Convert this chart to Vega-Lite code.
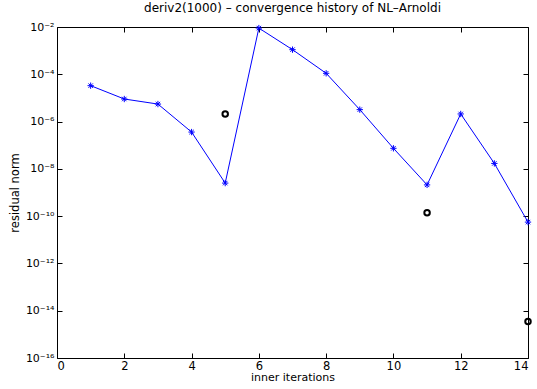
{
  "$schema": "https://vega.github.io/schema/vega-lite/v6.json",
  "width": 471,
  "height": 331,
  "autosize": {"type": "none"},
  "padding": {"left": 57, "top": 27, "right": 9, "bottom": 31},
  "background": "white",
  "config": {
    "font": "DejaVu Sans",
    "view": {"stroke": null},
    "axis": {"grid": false, "domainColor": "black", "tickColor": "black", "labelColor": "black", "titleColor": "black", "labelFont": "DejaVu Sans", "titleFont": "DejaVu Sans", "titleFontWeight": "normal", "labelFontSize": 11, "titleFontSize": 11.5, "domainWidth": 1, "tickWidth": 1}
  },
  "title": {"text": "deriv2(1000) – convergence history of NL–Arnoldi", "font": "DejaVu Sans", "fontSize": 12, "fontWeight": "normal", "color": "black", "offset": 6},
  "data": {"values": [
    {"it": 1, "res": 3.3e-5, "s": "hist"},
    {"it": 2, "res": 9e-6, "s": "hist"},
    {"it": 3, "res": 5.5e-6, "s": "hist"},
    {"it": 4, "res": 3.6e-7, "s": "hist"},
    {"it": 5, "res": 2.5e-9, "s": "hist"},
    {"it": 6, "res": 9e-3, "s": "hist"},
    {"it": 7, "res": 1.1e-3, "s": "hist"},
    {"it": 8, "res": 1.1e-4, "s": "hist"},
    {"it": 9, "res": 3.2e-6, "s": "hist"},
    {"it": 10, "res": 7.4e-8, "s": "hist"},
    {"it": 11, "res": 2.1e-9, "s": "hist"},
    {"it": 12, "res": 2.1e-6, "s": "hist"},
    {"it": 13, "res": 1.7e-8, "s": "hist"},
    {"it": 14, "res": 5.6e-11, "s": "hist"},
    {"it": 5, "res": 2.1e-6, "s": "conv"},
    {"it": 11, "res": 1.4e-10, "s": "conv"},
    {"it": 14, "res": 3.5e-15, "s": "conv"}
  ]},
  "layer": [
    {
      "transform": [{"filter": "datum.s == 'hist'"}],
      "mark": {"type": "line", "color": "#0000ff", "strokeWidth": 1, "clip": true},
      "encoding": {
        "x": {"field": "it", "type": "quantitative", "scale": {"domain": [0, 14], "nice": false, "zero": false}, "axis": {"orient": "bottom", "values": [0, 2, 4, 6, 8, 10, 12, 14], "tickSize": -5, "labelPadding": 7, "labelFontSize": 11.5, "title": "inner iterations", "titleFontSize": 11, "titlePadding": 0}},
        "y": {"field": "res", "type": "quantitative", "scale": {"type": "log", "domain": [1e-16, 1e-2], "nice": false}, "axis": {"orient": "left", "values": [1e-16, 1e-14, 1e-12, 1e-10, 1e-8, 1e-6, 1e-4, 1e-2], "tickSize": -5, "labelPadding": 8, "title": "residual norm", "titlePadding": 5,
          "labelExpr": "datum.value > 5e-3 ? '10⁻²' : datum.value > 5e-5 ? '10⁻⁴' : datum.value > 5e-7 ? '10⁻⁶' : datum.value > 5e-9 ? '10⁻⁸' : datum.value > 5e-11 ? '10⁻¹⁰' : datum.value > 5e-13 ? '10⁻¹²' : datum.value > 5e-15 ? '10⁻¹⁴' : '10⁻¹⁶'"}}
      }
    },
    {
      "transform": [{"filter": "datum.s == 'hist'"}],
      "mark": {"type": "point", "shape": "M-1,0L1,0M0,-1L0,1M-0.7,-0.7L0.7,0.7M-0.7,0.7L0.7,-0.7", "filled": false, "color": "#0000ff", "strokeWidth": 1, "size": 40, "opacity": 1},
      "encoding": {
        "x": {"field": "it", "type": "quantitative", "axis": {"orient": "top", "values": [0, 2, 4, 6, 8, 10, 12, 14], "tickSize": -5, "labels": false, "title": null}},
        "y": {"field": "res", "type": "quantitative", "axis": {"orient": "right", "values": [1e-16, 1e-14, 1e-12, 1e-10, 1e-8, 1e-6, 1e-4, 1e-2], "tickSize": -5, "labels": false, "title": null}}
      }
    },
    {
      "transform": [{"filter": "datum.s == 'conv'"}],
      "mark": {"type": "point", "shape": "circle", "filled": false, "color": "black", "strokeWidth": 2, "size": 30, "opacity": 1},
      "encoding": {
        "x": {"field": "it", "type": "quantitative", "axis": null},
        "y": {"field": "res", "type": "quantitative", "axis": null}
      }
    }
  ],
  "resolve": {"axis": {"x": "independent", "y": "independent"}}
}
